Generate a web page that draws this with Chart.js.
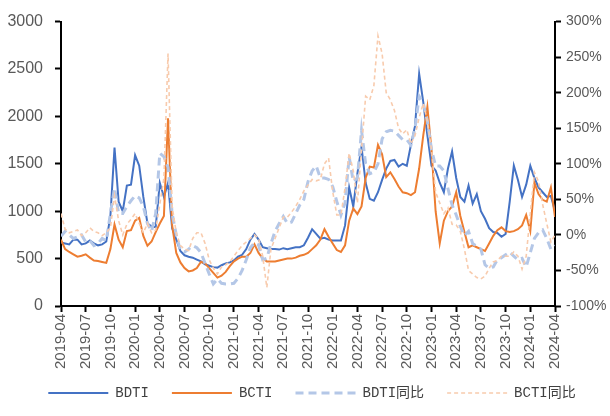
<!DOCTYPE html>
<html>
<head>
<meta charset="utf-8">
<script src="https://cdn.jsdelivr.net/npm/chart.js@4.4.1/dist/chart.umd.min.js"></script>
<style>
  html, body { margin: 0; padding: 0; background: #ffffff; }
  #wrap { width: 610px; height: 416px; }
</style>
</head>
<body>
<div id="wrap"><canvas id="c" width="610" height="416"></canvas></div>
<script>
// Half-month sampling from 2019-04 to 2024-04 (121 points, step = 0.5 month)
const tickLabels = ['2019-04','2019-07','2019-10','2020-01','2020-04','2020-07','2020-10','2021-01','2021-04','2021-07','2021-10','2022-01','2022-04','2022-07','2022-10','2023-01','2023-04','2023-07','2023-10','2024-01','2024-04'];

const bdti = [
  670, 660, 650, 700, 700, 650, 660, 690, 660, 640, 650, 680,
  950, 1670, 1100, 1000, 1270, 1280, 1590, 1480, 1150, 870, 840, 830,
  1300, 1150, 1300, 820, 700, 580, 535, 520, 510, 490, 470, 440,
  425, 410, 405, 430, 450, 460, 480, 520, 540, 600, 700, 760,
  700, 620, 610, 600, 600, 595, 610, 600, 610, 620, 620, 640,
  720, 810, 760, 710, 720, 700, 690, 690, 690, 850, 1250, 1050,
  1400, 1680, 1300, 1130, 1110, 1200, 1330, 1450, 1530, 1540, 1470, 1500,
  1480, 1700, 1900, 2450, 2150, 1800, 1480, 1430, 1300, 1200, 1450, 1630,
  1350, 1150, 1100, 1270, 1080, 1180, 1000, 920, 820, 780, 770, 730,
  760, 1100, 1480, 1330, 1150, 1280, 1480, 1350, 1250, 1200, 1150, 1160,
  1000
];

const bcti = [
  700, 600, 570, 545, 520, 530, 545, 510, 480, 475, 465, 455,
  600, 860, 700, 620, 790, 800, 900, 930, 740, 635, 680, 780,
  870, 950, 1980, 850, 560, 460, 400, 365, 375, 400, 466, 450,
  400, 350, 300, 320, 360, 420, 470, 500, 520, 520, 560, 650,
  560, 500, 470, 470, 470, 480, 490, 500, 500, 510, 530, 540,
  560, 600, 640, 700, 810, 730, 660, 590, 570, 640, 900, 1030,
  970, 1050, 1350, 1470, 1460, 1700, 1600, 1360, 1410, 1340, 1260, 1200,
  1190, 1170, 1200, 1450, 1800, 2100, 1650, 1000, 660, 900, 1000, 1050,
  1200, 950, 780, 620, 640, 620, 600, 580, 660, 740, 800, 830,
  790, 780, 790, 810, 850, 960, 790, 1300, 1180, 1120, 1100, 1250,
  940
];

const bdtiYoy = [
  -2, 5, 0, -5, -3, 0, -10, -8, -15, -12, -5, -8,
  30, 66, 30, 30, 40, 48, 55, 52, 40, 16, 5, 30,
  115, 110, 95, 30, 0, -22, -24, -20, -15, -18, -25, -40,
  -55, -69, -62, -68, -69, -69, -68, -61, -50, -35, -18, -11,
  -14, -35, -33, -12, 5, 16, 26, 16, 18, 30, 42, 50,
  75, 90, 97, 80, 80, 78, 68, 47, 28, 45, 110, 75,
  80, 147, 100, 86, 88, 100, 135, 145, 147, 146, 140, 134,
  134, 126, 150, 195, 185, 160, 120, 97, 97, 90, 65, 42,
  28, 12, -1, 5, -12, -16, -20, -42, -47, -45, -35, -32,
  -28, -24, -30, -35, -33, -45, -25, -5, 3, 7, -5, -20,
  -15
];

const bctiYoy = [
  30, 8, 3, 5, 7, -1, 3, 10, 5, 3, -1, 3,
  10, 55, 20, 0, 15, 22, 30, 16, 3, 16, 3, 7,
  43, 80, 255, 40, 3, -15, -20, -22, -5, 3, 3, -12,
  -35, -47, -55, -45, -42, -38, -30, -22, -15, -10, -5, 0,
  -5, -30, -74, -20, -5, 10, 25, 25, 32, 40, 50, 62,
  70, 78, 76, 78, 100, 108, 61, 28, 28, 66, 115, 90,
  45, 120, 195, 190, 210, 280, 255, 200, 190, 175, 150, 142,
  148, 128, 140, 165, 185, 160, 120, 60, 45, 30, 38, 15,
  14, 5, -20, -50, -55, -60, -62, -58, -47, -38, -36, -30,
  -30, -30, -24, -30, -48, -30, 30, 88, 75, 43, 16, -10,
  0
];

const STEP = 0.5; // months per sample
const toXY = arr => arr.map((v, i) => ({ x: i * STEP, y: v }));

const tickColor = '#595959';
const sans = "'Liberation Sans', Arial, sans-serif";

// After layout: nudge the legend and let the x-axis labels extend below its box (no clipping)
const layoutTweaks = {
  id: 'layoutTweaks',
  afterLayout(c) {
    if (c.legend) { c.legend.left += 14; }
    const xs = c.scales.x;
    if (xs) { xs.bottom += 30; xs.height += 30; }
  }
};

const chart = new Chart(document.getElementById('c'), {
  type: 'line',
  plugins: [layoutTweaks],
  data: {
    datasets: [
      { label: 'BDTI', data: toXY(bdti), yAxisID: 'y', borderColor: '#4472C4', borderWidth: 2, order: 4 },
      { label: 'BCTI', data: toXY(bcti), yAxisID: 'y', borderColor: '#ED7D31', borderWidth: 2, order: 3 },
      { label: 'BDTI同比', data: toXY(bdtiYoy), yAxisID: 'y1', borderColor: '#B4C7E7', borderWidth: 3, borderDash: [8, 5], order: 2 },
      { label: 'BCTI同比', data: toXY(bctiYoy), yAxisID: 'y1', borderColor: '#F8CBAD', borderWidth: 1.6, borderDash: [4, 3], order: 1 }
    ]
  },
  options: {
    responsive: false,
    animation: false,
    devicePixelRatio: 1,
    layout: { padding: { top: 10, bottom: 6, left: 0, right: 0 } },
    elements: { point: { radius: 0 }, line: { tension: 0, fill: false } },
    plugins: {
      tooltip: { enabled: false },
      legend: {
        position: 'bottom',
        labels: {
          usePointStyle: true,
          pointStyle: 'line',
          pointStyleWidth: 60,
          padding: 23,
          color: '#404040',
          font: { family: "'Liberation Mono', 'Noto Sans CJK SC', monospace", size: 14 },
          generateLabels: (ch) => ch.data.datasets.map((ds, i) => ({
            text: ds.label,
            strokeStyle: ds.borderColor,
            fillStyle: ds.borderColor,
            lineWidth: ds.borderWidth,
            lineDash: ds.borderDash || [],
            pointStyle: 'line',
            hidden: false,
            datasetIndex: i,
            fontColor: '#404040'
          }))
        }
      }
    },
    scales: {
      x: {
        type: 'linear',
        min: 0,
        max: 60,
        afterFit: (s) => { s.height = 57; },
        border: { display: true, color: '#000000', width: 2 },
        grid: { drawOnChartArea: false, drawTicks: true, tickLength: 6, tickColor: '#000000', tickWidth: 2 },
        ticks: {
          stepSize: 3,
          autoSkip: false,
          maxRotation: 90,
          minRotation: 90,
          padding: 2,
          color: tickColor,
          font: { family: sans, size: 15 },
          callback: (v) => tickLabels[Math.round(v / 3)]
        }
      },
      y: {
        position: 'left',
        min: 0,
        max: 3000,
        afterFit: (s) => { s.width = 61; },
        border: { display: true, color: '#000000', width: 2 },
        grid: { drawOnChartArea: false, drawTicks: true, tickLength: 6, tickColor: '#000000', tickWidth: 2 },
        ticks: { stepSize: 500, padding: 12, color: tickColor, font: { family: sans, size: 16 }, callback: (v) => String(v) }
      },
      y1: {
        position: 'right',
        min: -100,
        max: 300,
        afterFit: (s) => { s.width = 55; },
        border: { display: true, color: '#000000', width: 2 },
        grid: { drawOnChartArea: false, drawTicks: true, tickLength: 6, tickColor: '#000000', tickWidth: 2 },
        ticks: { stepSize: 50, padding: 5, color: tickColor, font: { family: sans, size: 14 }, callback: (v) => v + '%' }
      }
    }
  }
});
</script>
</body>
</html>
